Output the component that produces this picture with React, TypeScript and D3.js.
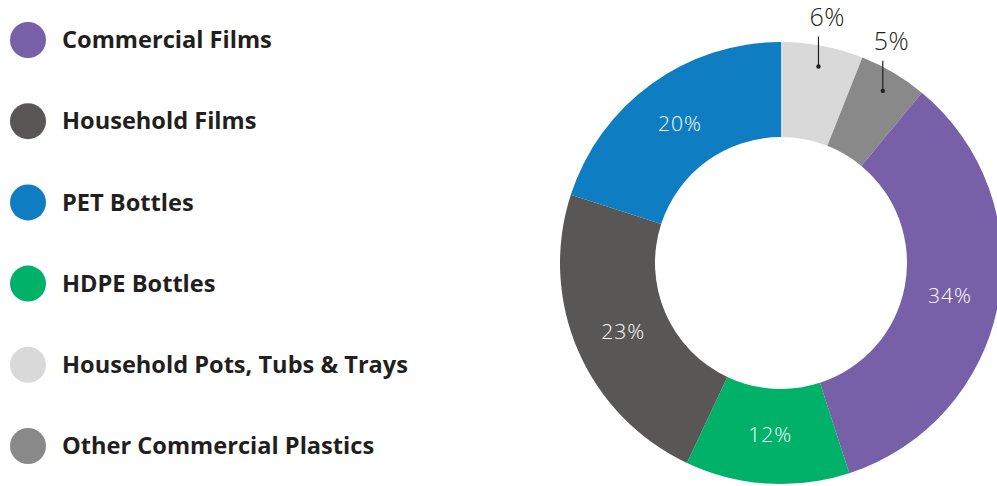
import React from "react";
import * as d3 from "d3";

const categories = [
  "Commercial Films",
  "Household Films",
  "PET Bottles",
  "HDPE Bottles",
  "Household Pots, Tubs & Trays",
  "Other Commercial Plastics",
];
const colors = ["#7760A8", "#595755", "#0F7DC2", "#00B16A", "#D9D9D9", "#898989"];
// order of slices clockwise from 12 o'clock
const sliceOrder = [
  "Household Pots, Tubs & Trays",
  "Other Commercial Plastics",
  "Commercial Films",
  "HDPE Bottles",
  "Household Films",
  "PET Bottles",
];
const sliceValues = [6, 5, 34, 12, 23, 20];
const outsideLabels = ["Household Pots, Tubs & Trays", "Other Commercial Plastics"];

const W = 997;
const H = 486;
const cx = 781;
const cy = 263;
const R = 221;
const r = 126;

export default function App() {
  const color = d3.scaleOrdinal<string, string>().domain(categories).range(colors);
  const data = sliceOrder.map((name, i) => ({ name, value: sliceValues[i] }));
  const pie = d3.pie<{ name: string; value: number }>().sort(null).value((d) => d.value);
  const arcs = pie(data);
  const arc = d3.arc<any>().innerRadius(r).outerRadius(R);
  const labelArc = d3.arc<any>().innerRadius(172).outerRadius(172);
  const dotArc = d3.arc<any>().innerRadius(200).outerRadius(200);
  const legendY = d3.scalePoint<string>().domain(categories).range([40, 446]);

  return (
    <svg width={W} height={H} style={{ position: "absolute", left: 0, top: 0 }}>
      <rect width={W} height={H} fill="#fff" />
      {categories.map((c) => (
        <g key={c} transform={`translate(0,${legendY(c)})`}>
          <circle cx={28} cy={0} r={18} fill={color(c)} />
          <text x={62} y={0} dy="0.35em" fontFamily="Open Sans" fontWeight={700} fontSize={23.6} fill="#231F20">
            {c}
          </text>
        </g>
      ))}
      <g transform={`translate(${cx},${cy})`}>
        {arcs.map((a) => (
          <path key={a.data.name} d={arc(a) as string} fill={color(a.data.name)} />
        ))}
        {arcs.map((a) => {
          if (outsideLabels.includes(a.data.name)) {
            const [x, y] = dotArc.centroid(a);
            return (
              <g key={"l" + a.data.name}>
                <line x1={x} y1={y} x2={x} y2={y - 30} stroke="#231F20" strokeWidth={1.2} />
                <circle cx={x} cy={y} r={2.2} fill="#231F20" />
                <text x={x - 9} y={y - 41} textAnchor="start" fontFamily="Open Sans" fontWeight={300} fontSize={25} letterSpacing={0.5} fill="#231F20">
                  {a.data.value}%
                </text>
              </g>
            );
          }
          const [x, y] = labelArc.centroid(a);
          return (
            <text
              key={"l" + a.data.name}
              x={x}
              y={y}
              dy="0.35em"
              textAnchor="middle"
              fontFamily="Open Sans"
              fontWeight={300}
              fontSize={21}
              letterSpacing={1}
              fill="#fff"
            >
              {a.data.value}%
            </text>
          );
        })}
      </g>
    </svg>
  );
}
